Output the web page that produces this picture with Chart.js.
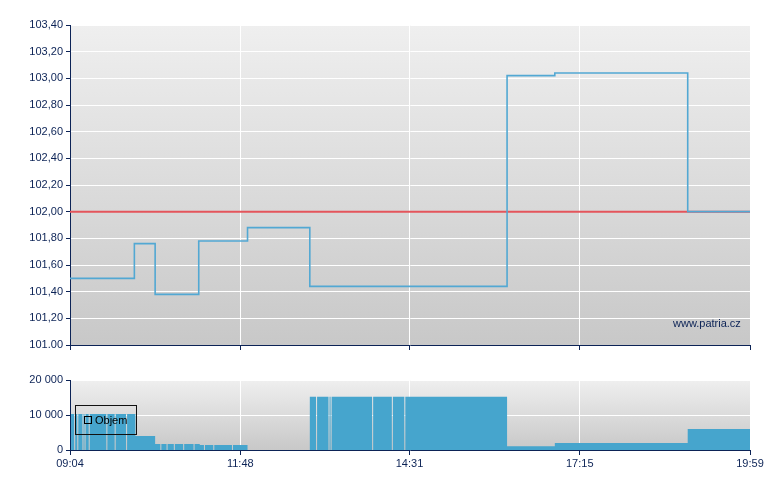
<!DOCTYPE html>
<html>
<head>
<meta charset="utf-8">
<script src="https://cdn.jsdelivr.net/npm/chart.js@4.4.1/dist/chart.umd.min.js"></script>
<style>
  body { margin: 0; background: #fff; }
  #wrap { position: relative; width: 780px; height: 490px; }
  canvas { position: absolute; left: 0; }
  #priceChart { top: 0; }
  #volChart { top: 365px; }
  #legend {
    position: absolute; left: 75px; top: 405px; width: 60px; height: 28px;
    border: 1px solid #111; font: 11px Arial, "Liberation Sans", sans-serif; color: #000;
  }
  #legend .sq { position: absolute; left: 8px; top: 10px; width: 6px; height: 6px; border: 1px solid #000; }
  #legend .txt { position: absolute; left: 19px; top: 8px; }
  #mark {
    position: absolute; left: 673px; top: 317px;
    font: 11px Arial, "Liberation Sans", sans-serif; color: #0c2356;
  }
</style>
</head>
<body>
<div id="wrap">
  <canvas id="priceChart" width="780" height="365"></canvas>
  <canvas id="volChart" width="780" height="125"></canvas>
  <div id="legend"><div class="sq"></div><span class="txt">Objem</span></div>
  <div id="mark">www.patria.cz</div>
</div>
<script>
// time axis
const timeTicks = ['09:04', '11:48', '14:31', '17:15', '19:59'];

// price (step line, value holds until next point)
const priceTimes = ['09:04', '10:06', '10:26', '11:08', '11:55', '12:55', '16:05', '16:51', '18:59', '19:59'];
const priceValues = [101.50, 101.76, 101.38, 101.78, 101.88, 101.44, 103.02, 103.04, 102.00, 102.00];

// previous close
const refTimes = ['09:04', '19:59'];
const refValues = [102.00, 102.00];

const priceTicks = [101.0, 101.2, 101.4, 101.6, 101.8, 102.0, 102.2, 102.4, 102.6, 102.8, 103.0, 103.2, 103.4];
const priceTickLabels = ['101.00', '101,20', '101,40', '101,60', '101,80', '102,00', '102,20', '102,40', '102,60', '102,80', '103,00', '103,20', '103,40'];

// volume (stepped, 0 = gap between trades)
const volTimes = [
  '09:05', '09:08', '09:09', '09:11', '09:12', '09:16', '09:17', '09:18', '09:19', '09:22', '09:23',
  '09:39', '09:40', '09:47', '09:48', '09:58', '09:59', '10:07', '10:26', '10:31', '10:32', '10:37',
  '10:38', '10:44', '10:45', '10:53', '10:54', '11:03', '11:04', '11:09', '11:13', '11:14', '11:22',
  '11:23', '11:40', '11:41', '11:55', '12:55', '13:01', '13:02', '13:13', '13:14', '13:15', '13:16',
  '13:55', '13:56', '14:14', '14:15', '14:26', '14:27', '16:05', '16:51', '18:59', '19:59'
];
const volValues = [
  10300, 0, 10300, 0, 10300, 0, 10300, 0, 10300, 0, 10300,
  0, 10300, 0, 10300, 0, 10300, 4000, 1700, 0, 1700, 0,
  1700, 0, 1700, 0, 1700, 0, 1700, 1400, 0, 1400, 0,
  1400, 0, 1400, 0, 15200, 0, 15200, 0, 15200, 0, 15200,
  0, 15200, 0, 15200, 0, 15200, 1100, 2000, 6000, 6000
];

const volTicks = [0, 10000, 20000];
const volTickLabels = ['0', '10 000', '20 000'];

const navy = '#0c2356';

function toMin(t) {
  const p = t.split(':');
  return parseInt(p[0]) * 60 + parseInt(p[1]);
}
function pts(times, values) {
  return times.map((t, i) => ({ x: toMin(t), y: values[i] }));
}

Chart.defaults.font.family = 'Arial, "Liberation Sans", sans-serif';
Chart.defaults.font.size = 11;
Chart.defaults.color = navy;

const bgPlugin = {
  id: 'bg',
  beforeDraw(chart) {
    const a = chart.chartArea, ctx = chart.ctx;
    const g = ctx.createLinearGradient(0, a.top, 0, a.bottom);
    g.addColorStop(0, '#efefef');
    g.addColorStop(1, '#c8c8c8');
    ctx.save();
    ctx.fillStyle = g;
    ctx.fillRect(a.left, a.top, a.right - a.left, a.bottom - a.top);
    ctx.restore();
  }
};

function xAxis(showLabels, h) {
  return {
    type: 'linear',
    min: toMin(timeTicks[0]),
    max: toMin(timeTicks[timeTicks.length - 1]),
    afterBuildTicks: s => { s.ticks = timeTicks.map(t => ({ value: toMin(t) })); },
    afterFit: s => { s.height = h; },
    grid: { color: '#ffffff', lineWidth: 1, tickColor: navy, tickLength: 5 },
    border: { color: navy, width: 1 },
    ticks: {
      maxRotation: 0, autoSkip: false, padding: 2, color: navy,
      callback: (v, i) => showLabels ? timeTicks[i] : ''
    }
  };
}

function yAxis(vals, labels) {
  return {
    min: vals[0],
    max: vals[vals.length - 1],
    afterBuildTicks: s => { s.ticks = vals.map(v => ({ value: v })); },
    afterFit: s => { s.width = 70; },
    grid: { color: '#ffffff', lineWidth: 1, tickColor: navy, tickLength: 4 },
    border: { color: navy, width: 1 },
    ticks: { padding: 3, color: navy, callback: (v, i) => labels[i] }
  };
}

new Chart(document.getElementById('priceChart'), {
  type: 'line',
  data: {
    datasets: [
      {
        label: 'Cena',
        data: pts(priceTimes, priceValues),
        stepped: 'before',
        borderColor: '#52a8d3',
        borderWidth: 1.6,
        pointRadius: 0,
        fill: false
      },
      {
        label: 'Ref',
        data: pts(refTimes, refValues),
        borderColor: '#e4555b',
        borderWidth: 2,
        pointRadius: 0,
        fill: false
      }
    ]
  },
  options: {
    responsive: false,
    animation: false,
    layout: { padding: { top: 25, right: 30, left: 0, bottom: 0 } },
    plugins: { legend: { display: false }, tooltip: { enabled: false } },
    scales: {
      x: xAxis(false, 20),
      y: yAxis(priceTicks, priceTickLabels)
    }
  },
  plugins: [bgPlugin]
});

new Chart(document.getElementById('volChart'), {
  type: 'line',
  data: {
    datasets: [{
      label: 'Objem',
      data: pts(volTimes, volValues),
      stepped: 'before',
      borderWidth: 0,
      borderColor: 'rgba(0,0,0,0)',
      backgroundColor: '#46a5cd',
      pointRadius: 0,
      fill: 'origin'
    }]
  },
  options: {
    responsive: false,
    animation: false,
    layout: { padding: { top: 15, right: 30, left: 0, bottom: 0 } },
    plugins: { legend: { display: false }, tooltip: { enabled: false } },
    scales: {
      x: xAxis(true, 40),
      y: yAxis(volTicks, volTickLabels)
    }
  },
  plugins: [bgPlugin]
});
</script>
</body>
</html>
